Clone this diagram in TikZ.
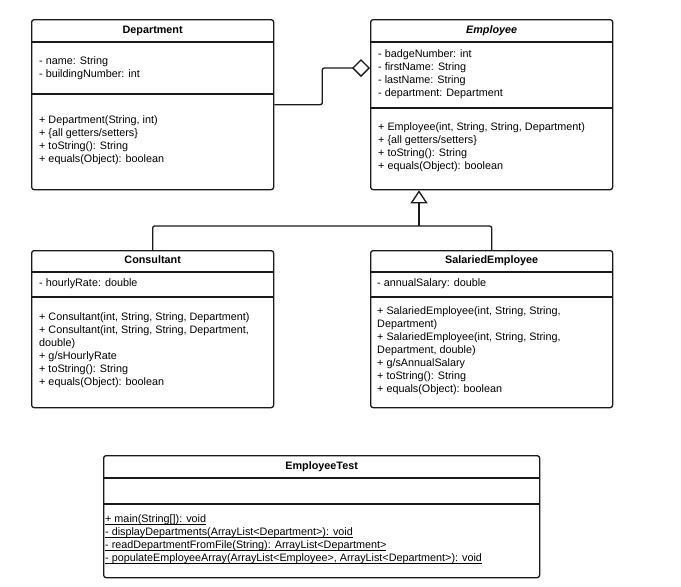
\documentclass[tikz,border=0pt]{standalone}
\usepackage{fontspec}
\setmainfont{Liberation Sans}
\usetikzlibrary{arrows.meta}
\newcommand\umlfont{\fontsize{10.8}{13}\selectfont}
\newcommand\fl{\rule{0pt}{10pt}}
\newcommand\uln[1]{\setbox0\hbox{#1}\rlap{\rule[-2.3pt]{\wd0}{0.7pt}}\box0}
\definecolor{linec}{HTML}{1A1A1A}
\begin{document}
\begin{tikzpicture}[x=1pt,y=-1pt,
  classbox/.style={draw=linec, line width=1.3pt, rounded corners=2.5pt, anchor=north west, inner sep=0pt, minimum width=242pt},
  divider/.style={draw=linec, line width=1.3pt},
  title/.style={anchor=base, font=\umlfont\bfseries, inner sep=0pt},
  members/.style={anchor=north west, align=left, font=\umlfont, inner sep=0pt},
  conn/.style={draw=linec, line width=1.3pt, rounded corners=2pt},
]
\useasboundingbox (0,0) rectangle (681,587);

% Department
\node[classbox, minimum height=170pt] (dep) at (31,19) {};
\draw[divider] ([yshift=-23pt]dep.north west) -- ([yshift=-23pt]dep.north east);
\draw[divider] ([yshift=-75pt]dep.north west) -- ([yshift=-75pt]dep.north east);
\node[title] (depT) at ([yshift=-14pt]dep.north) {Department};
\node[members] (depA) at (39,54) {\fl- name: String\\- buildingNumber: int};
\node[members] (depM) at (39,113) {\fl+ Department(String, int)\\+ \{all getters/setters\}\\+ toString(): String\\+ equals(Object): boolean};

% Employee
\node[classbox, minimum height=170pt] (emp) at (370,19) {};
\draw[divider] ([yshift=-23pt]emp.north west) -- ([yshift=-23pt]emp.north east);
\draw[divider] ([yshift=-89pt]emp.north west) -- ([yshift=-89pt]emp.north east);
\node[title] (empT) at ([yshift=-14pt]emp.north) {\itshape Employee};
\node[members] (empA) at (378,47.3) {\fl- badgeNumber: int\\- firstName: String\\- lastName: String\\- department: Department};
\node[members] (empM) at (378,120.7) {\fl+ Employee(int, String, String, Department)\\+ \{all getters/setters\}\\+ toString(): String\\+ equals(Object): boolean};

% Consultant
\node[classbox, minimum height=157pt] (con) at (31,250) {};
\draw[divider] ([yshift=-22pt]con.north west) -- ([yshift=-22pt]con.north east);
\draw[divider] ([yshift=-47pt]con.north west) -- ([yshift=-47pt]con.north east);
\node[title] (conT) at ([yshift=-13.5pt]con.north) {Consultant};
\node[members] (conA) at (39,276) {\fl- hourlyRate: double};
\node[members] (conM) at (39,310.7) {\fl+ Consultant(int, String, String, Department)\\+ Consultant(int, String, String, Department,\\double)\\+ g/sHourlyRate\\+ toString(): String\\+ equals(Object): boolean};

% SalariedEmployee
\node[classbox, minimum height=157pt] (sal) at (370,250) {};
\draw[divider] ([yshift=-22pt]sal.north west) -- ([yshift=-22pt]sal.north east);
\draw[divider] ([yshift=-47pt]sal.north west) -- ([yshift=-47pt]sal.north east);
\node[title] (salT) at ([yshift=-13.5pt]sal.north) {SalariedEmployee};
\node[members] (salA) at (377,276) {\fl- annualSalary: double};
\node[members] (salM) at (377,304.3) {\fl+ SalariedEmployee(int, String, String,\\Department)\\+ SalariedEmployee(int, String, String,\\Department, double)\\+ g/sAnnualSalary\\+ toString(): String\\+ equals(Object): boolean};

% EmployeeTest
\node[classbox, minimum width=436pt, minimum height=122pt] (tst) at (103,455) {};
\draw[divider] ([yshift=-23pt]tst.north west) -- ([yshift=-23pt]tst.north east);
\draw[divider] ([yshift=-49pt]tst.north west) -- ([yshift=-49pt]tst.north east);
\node[title] (tstT) at ([yshift=-14pt]tst.north) {EmployeeTest};
\node[members] (tstM) at (105,512) {\fl\uln{+ main(String[]): void}\\\uln{- displayDepartments(ArrayList<Department>): void}\\\uln{- readDepartmentFromFile(String): ArrayList<Department>}\\\uln{- populateEmployeeArray(ArrayList<Employee>, ArrayList<Department>): void}};

% Aggregation
\coordinate (aggY) at (0,68);
\draw[conn, -{Diamond[open, length=18pt, width=18pt]}] (dep.east) -- ++(48,0) |- (emp.west |- aggY);

% Generalization
\coordinate (j) at (419,226);
\draw[conn] (con.north) |- (j);
\draw[conn] (sal.north) |- (j);
\draw[conn, -{Triangle[open, length=13pt, width=17pt]}] (j) -- (j |- emp.south);
\end{tikzpicture}
\end{document}
